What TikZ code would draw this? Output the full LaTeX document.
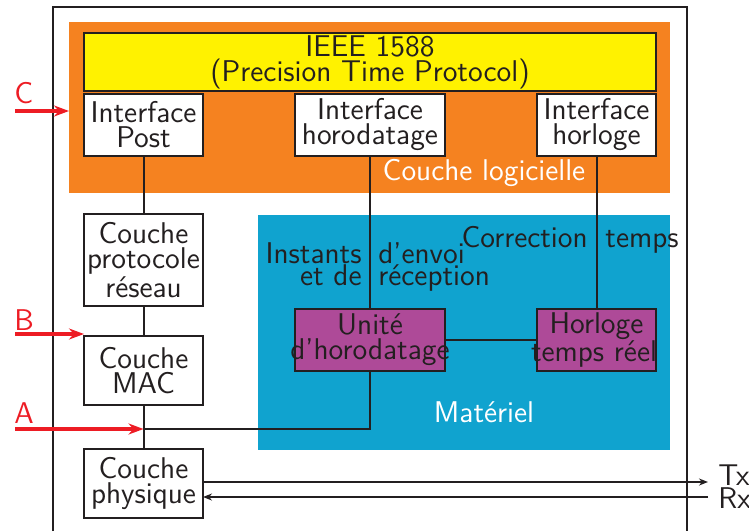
\documentclass[tikz,border=0pt]{standalone}
\usepackage{tikz}
\usetikzlibrary{arrows.meta,positioning}
\definecolor{ink}{HTML}{231F20}
\definecolor{swlayer}{HTML}{F58220}
\definecolor{hwlayer}{HTML}{10A3CF}
\definecolor{ptpyellow}{HTML}{FFF200}
\definecolor{hwplum}{HTML}{AE4A98}
\definecolor{probered}{HTML}{ED1C24}
\newcommand{\spill}[1]{\makebox[0pt]{#1}}
\tikzset{
  >=Latex,
  every node/.style={font=\sffamily\fontsize{15}{12.5}\selectfont,text=ink},
  blk/.style={draw=ink,line width=1pt,fill=white,align=center,inner sep=0pt,outer sep=0pt,minimum width=59.5pt,minimum height=31pt},
  ptp/.style={blk,fill=ptpyellow,minimum width=286pt,minimum height=29pt},
  hw/.style={blk,fill=hwplum},
  layer/.style={draw=none,inner sep=0pt,outer sep=0pt},
  link/.style={draw=ink,line width=1pt},
  probe/.style={-{Stealth[length=7.5pt,width=5.5pt]},draw=probered,line width=2pt},
  sig/.style={-{Stealth[length=4.5pt,width=3.5pt]},draw=ink,line width=0.8pt},
  lbl/.style={anchor=base,inner sep=0pt},
  lbll/.style={anchor=base east,inner sep=0pt},
  lblr/.style={anchor=base west,inner sep=0pt},
  wlbl/.style={lbl,text=white},
  probetag/.style={lblr,text=probered}
}
\begin{document}
\begin{tikzpicture}[x=0.5pt,y=-0.5pt]
  \useasboundingbox (0,0) rectangle (749,531);
  \draw[ink,line width=1pt] (53,531) |- (687,7) -- (687,531);
  \node[layer,fill=swlayer,minimum width=300.5pt,minimum height=85.5pt] (sw) at (369.5,107.5) {};
  \node[layer,fill=hwlayer,minimum width=206pt,minimum height=117.5pt] (hwl) at (464,332.5) {};

  \node[ptp] (ieee) at (370,62) {IEEE 1588\\(Precision Time Protocol)};
  \node[blk] (ipost) at (143.5,125) {Interface\\Post};
  \node[blk,minimum width=75pt] (ihoro) at (370,125) {Interface\\horodatage};
  \node[blk] (iclk) at (596.5,125) {Interface\\horloge};
  \node[wlbl] (swtxt) at (484,180) {Couche logicielle};

  \node[blk,minimum height=46pt,below=29pt of ipost] (proto) {Couche\\protocole\\réseau};
  \node[blk,minimum height=34.5pt,below=15pt of proto] (mac) {Couche\\MAC};
  \node[blk,minimum height=34.5pt,below=22pt of mac] (phy) {Couche\\physique};

  \node[hw,minimum width=75pt] (tsu) at (370,340) {Unité\\\spill{d'horodatage}};
  \node[hw] (rtc) at (596.5,340) {Horloge\\\spill{temps réel\hspace{2.5pt}}};
  \node[wlbl] (hwtxt) at (484,422) {Matériel};

  \node[lbll] (ts1) at (362,263) {Instants};
  \node[lbll] (ts2) at (362,285) {et de};
  \node[lblr] (ts3) at (378,263) {d'envoi};
  \node[lblr] (ts4) at (378,285) {réception};
  \node[lbll] (corr1) at (588,247) {Correction};
  \node[lblr] (corr2) at (605,247) {temps};

  \coordinate (tap) at (143.5,429);
  \draw[link] (ipost) -- (proto);
  \draw[link] (proto) -- (mac);
  \draw[link] (mac) -- (phy);
  \draw[link] (ihoro) -- (tsu);
  \draw[link] (iclk) -- (rtc);
  \draw[link] (tsu) -- (rtc);
  \draw[link] (tsu) |- (tap);

  \coordinate (cin) at (15,111);
  \coordinate (bin) at (15,334);
  \coordinate (ain) at (15,429);
  \draw[probe] (cin) -- (cin -| sw.west);
  \draw[probe] (bin) -- (bin -| mac.west);
  \draw[probe] (ain) -- (tap);
  \node[probetag] (ctag) at (14,103) {C};
  \node[probetag] (btag) at (14,330) {B};
  \node[probetag] (atag) at (14,423) {A};

  \coordinate (tx) at (708,482);
  \coordinate (rx) at (708,497);
  \draw[sig] (phy.east |- tx) -- (tx);
  \draw[sig] (rx) -- (phy.east |- rx);
  \node[lblr] (txtag) at (718,485) {Tx};
  \node[lblr] (rxtag) at (718,508) {Rx};
\end{tikzpicture}
\end{document}
